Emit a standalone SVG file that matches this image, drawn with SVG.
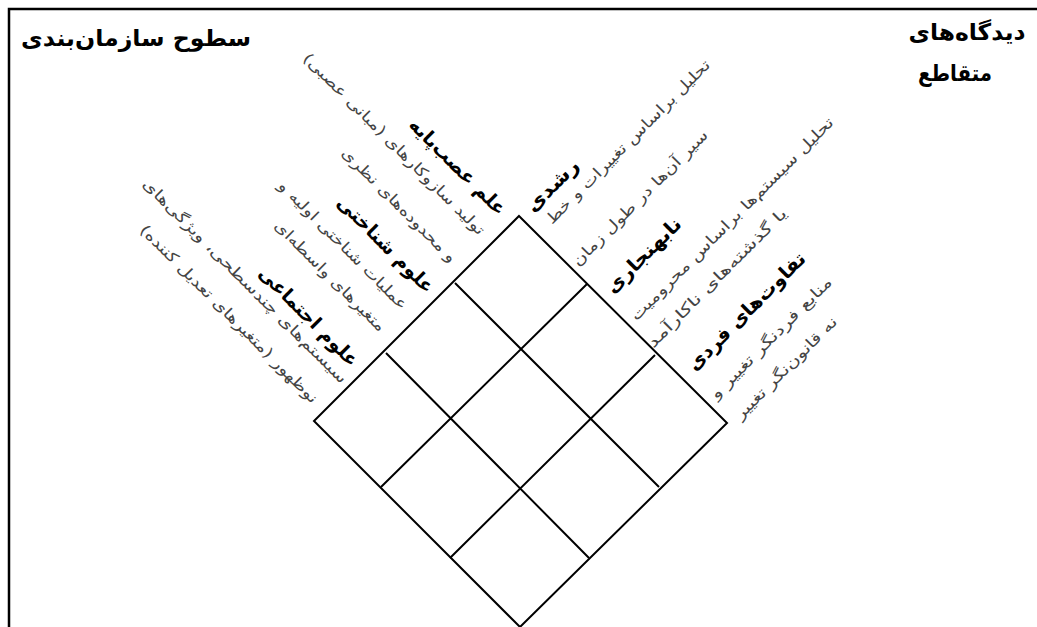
<svg xmlns="http://www.w3.org/2000/svg" width="1037" height="627" viewBox="0 0 1037 627">
<style>
text{font-family:"DejaVu Sans",sans-serif;direction:rtl;text-anchor:middle;dominant-baseline:central}
.h{font-size:23px;font-weight:bold;fill:#000}
.t{font-size:19px;font-weight:bold;fill:#000}
.d{font-size:15px;fill:#444}
.grid{fill:none;stroke:#000;stroke-width:2;stroke-linejoin:miter}
.frame{fill:none;stroke:#000;stroke-width:2.5}
</style>
<rect x="0" y="0" width="1037" height="627" fill="#fff"/>
<path class="frame" d="M9,627 V9 H1037"/>
<g id="header-left"><text class="h" x="136" y="38" textLength="230" lengthAdjust="spacingAndGlyphs">سطوح سازمان‌بندی</text></g>
<g id="header-right">
<text class="h" x="967" y="32" textLength="117" lengthAdjust="spacingAndGlyphs">دیدگاه‌های</text>
<text class="h" x="955" y="73" textLength="74" lengthAdjust="spacingAndGlyphs">متقاطع</text>
</g>
<g id="grid">
<path class="grid" d="M519,216 L727,423 L520,627 L314,421 Z"/>
<path class="grid" d="M455,283 L659,487 M386,353 L589,558 M587,284 L381,487 M655,355 L450,558"/>
</g>
<g id="level-neural">
<text class="t" transform="translate(458,166) rotate(45)" textLength="128" lengthAdjust="spacingAndGlyphs">علم عصب‌پایه</text>
<text class="d" transform="translate(394,144) rotate(45)" textLength="250" lengthAdjust="spacingAndGlyphs">تولید سازوکارهای (مبانی عصبی)</text>
<text class="d" transform="translate(399,205) rotate(45)" textLength="155" lengthAdjust="spacingAndGlyphs">و محدوده‌های نظری</text>
</g>
<g id="level-cognitive">
<text class="t" transform="translate(386,244) rotate(45)" textLength="128" lengthAdjust="spacingAndGlyphs">علوم شناختی</text>
<text class="d" transform="translate(343,245) rotate(45)" textLength="175" lengthAdjust="spacingAndGlyphs">عملیات شناختی اولیه و</text>
<text class="d" transform="translate(330,276) rotate(45)" textLength="150" lengthAdjust="spacingAndGlyphs">متغیرهای واسطه‌ای</text>
</g>
<g id="level-social">
<text class="t" transform="translate(309,316) rotate(45)" textLength="132" lengthAdjust="spacingAndGlyphs">علوم اجتماعی</text>
<text class="d" transform="translate(245,281) rotate(45)" textLength="282" lengthAdjust="spacingAndGlyphs">سیستم‌های چندسطحی، ویژگی‌های</text>
<text class="d" transform="translate(229,314) rotate(45)" textLength="245" lengthAdjust="spacingAndGlyphs">نوظهور (متغیرهای تعدیل کننده)</text>
</g>
<g id="view-developmental">
<text class="t" transform="translate(552,185) rotate(-45)" textLength="66" lengthAdjust="spacingAndGlyphs">رشدی</text>
<text class="d" transform="translate(628,142) rotate(-45)" textLength="225" lengthAdjust="spacingAndGlyphs">تحلیل براساس تغییرات و خط</text>
<text class="d" transform="translate(640,198) rotate(-45)" textLength="185" lengthAdjust="spacingAndGlyphs">سیر آن‌ها در طول زمان</text>
</g>
<g id="view-abnormal">
<text class="t" transform="translate(643,255) rotate(-45)" textLength="98" lengthAdjust="spacingAndGlyphs">نابهنجاری</text>
<text class="d" transform="translate(732,219) rotate(-45)" textLength="280" lengthAdjust="spacingAndGlyphs">تحلیل سیستم‌ها براساس محرومیت</text>
<text class="d" transform="translate(717,278) rotate(-45)" textLength="190" lengthAdjust="spacingAndGlyphs">یا گذشته‌های ناکارآمد</text>
</g>
<g id="view-individual">
<text class="t" transform="translate(746,311) rotate(-45)" textLength="158" lengthAdjust="spacingAndGlyphs">تفاوت‌های فردی</text>
<text class="d" transform="translate(771,338) rotate(-45)" textLength="165" lengthAdjust="spacingAndGlyphs">منابع فردنگر تغییر و</text>
<text class="d" transform="translate(786,368) rotate(-45)" textLength="138" lengthAdjust="spacingAndGlyphs">نه قانون‌نگر تغییر</text>
</g>
</svg>
